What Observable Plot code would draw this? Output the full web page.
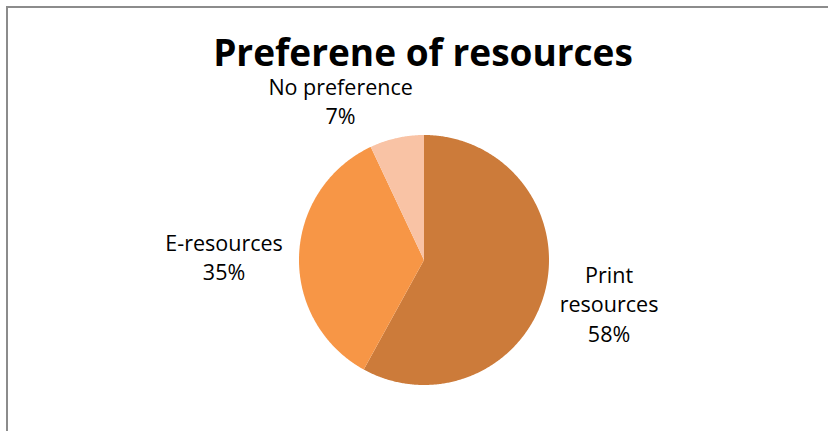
<!DOCTYPE html>
<html><head><meta charset="utf-8">
<script src="https://cdn.jsdelivr.net/npm/d3@7"></script>
<script src="https://cdn.jsdelivr.net/npm/@observablehq/plot@0.6"></script>
<style>
body{margin:0;background:#fff}
#wrap{position:relative;width:828px;height:431px;overflow:hidden;background:#fff}
#frame{position:absolute;left:6px;top:6px;width:830px;height:430px;border-top:2px solid #8c8c8c;border-left:2px solid #8c8c8c}
#title{position:absolute;left:23px;width:800px;top:38px;height:28px;text-align:center;font-family:"Open Sans";font-weight:bold;font-size:37px;line-height:28px;color:#000;white-space:nowrap}
#chart{position:absolute;left:0;top:0}
</style></head><body>
<div id="wrap"><div id="frame"></div><div id="chart"></div><div id="title">Preferene of resources</div></div>
<script>
const categories = ["Print resources", "E-resources", "No preference"];
const values = [58, 35, 7];
const labelNames = ["Print\nresources", "E-resources", "No preference"];
const colors = ["#CC7B3A", "#F79646", "#F9C3A5"];
// label layout: radial distance (in radius units) and angular nudge (degrees)
const labelRadius = [1.52, 1.6, 1.44];
const labelNudge = [-1.3, -0.6, -15];

const total = d3.sum(values);
const arcs = d3.pie().sort(null).value(d => d)(values);

const poly = [];
arcs.forEach((a, i) => {
  const name = categories[i];
  poly.push({name, x: 0, y: 0});
  const n = Math.max(2, Math.ceil((a.endAngle - a.startAngle) / (Math.PI / 360)));
  for (let k = 0; k <= n; k++) {
    const t = a.startAngle + (a.endAngle - a.startAngle) * k / n;
    poly.push({name, x: Math.sin(t), y: Math.cos(t)});
  }
});

const labels = arcs.map((a, i) => {
  const mid = (a.startAngle + a.endAngle) / 2 + labelNudge[i] * Math.PI / 180;
  const r = labelRadius[i];
  return {
    x: r * Math.sin(mid),
    y: r * Math.cos(mid),
    text: labelNames[i] + "\n" + Math.round(values[i] / total * 100) + "%"
  };
});

const chart = Plot.plot({
  width: 828,
  height: 431,
  margin: 0,
  x: {domain: [-1, 1], range: [298.5, 548.5], axis: null},
  y: {domain: [-1, 1], range: [384.5, 134.5], axis: null},
  color: {domain: categories, range: colors},
  style: {background: "transparent", fontFamily: "Open Sans"},
  marks: [
    Plot.line(poly, {x: "x", y: "y", z: "name", fill: "name", stroke: "none"}),
    Plot.text(labels, {x: "x", y: "y", text: "text", fontSize: 21.5, lineHeight: 1.36, fill: "#000"})
  ]
});
document.getElementById("chart").appendChild(chart);
</script>
</body></html>
